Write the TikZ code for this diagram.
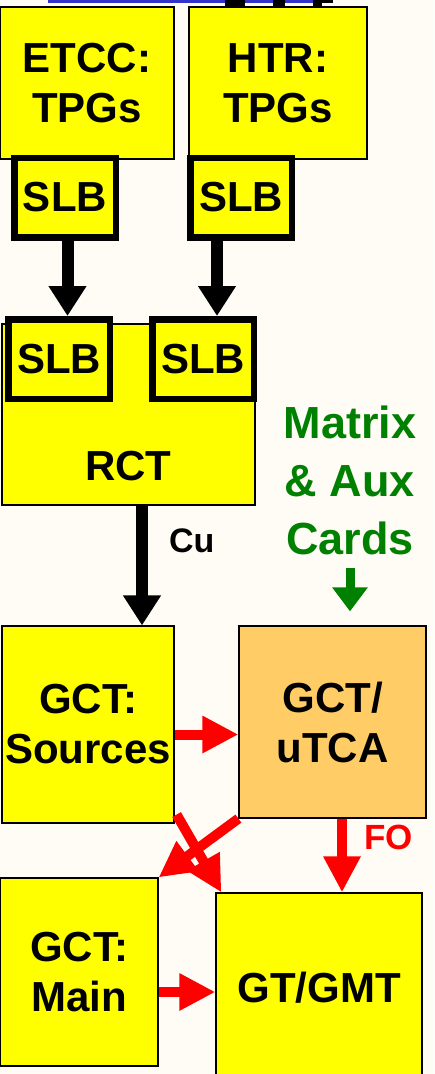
\documentclass[tikz,border=0pt]{standalone}
\usepackage{fontspec}
\setmainfont{Liberation Sans}
\usepackage{xcolor}
\usepackage{tikz}
\usetikzlibrary{arrows.meta,calc,positioning}
\definecolor{boxyellow}{HTML}{FFFF00}
\definecolor{utcaorange}{HTML}{FFCC66}
\definecolor{cardgreen}{HTML}{008000}
\definecolor{linkred}{HTML}{FF0000}
\definecolor{topblue}{HTML}{3333CC}
\definecolor{paper}{HTML}{FFFCF6}

\begin{document}
\begin{tikzpicture}
[x=1pt,y=-1pt,
every node/.style={font=\fontsize{42}{50}\selectfont\bfseries,align=center,inner sep=0pt},
card/.style={draw,line width=1.2pt,fill=boxyellow},
slb/.style={draw,line width=6.5pt,fill=boxyellow,minimum width=101.5pt,minimum height=79.5pt},
blk/.style={draw=black,line width=12pt,-{Triangle[length=30pt,width=36pt]}},
redarr/.style={draw=linkred,line width=10pt,-{Triangle[length=36pt,width=35pt]}},
grnarr/.style={draw=cardgreen,line width=9pt,-{Triangle[length=24pt,width=34pt]}}]
\fill[paper] (0,0) rectangle (434,1074);
\useasboundingbox (0,0) rectangle (434,1074);
% what is left of the row above
\fill[topblue] (48,0) rectangle (322,2.5);
\fill (225,0) rectangle (245,7);
\fill (273,0) rectangle (285,7);
\fill (313,0) rectangle (322,7);
\fill (322,0) rectangle (333,3);
% trigger primitives
\node[card,minimum width=174pt,minimum height=152pt] (etcc) at (87,83) {ETCC:\\TPGs};
\node[card,minimum width=178pt,minimum height=152pt] (htr) at (278,83) {HTR:\\TPGs};
\node[slb] (slbA) at (65,197.5) {SLB};
\node[slb] (slbB) at (241,197.5) {SLB};
% regional
\node[card,minimum width=253pt,minimum height=181pt,label={[yshift=-52pt]center:RCT}] (rct) at (128.5,414.5) {};
\node[slb] (slbC) at (59,359) {SLB};
\node[slb] (slbD) at (203,359) {SLB};
\node[text=cardgreen,font=\fontsize{45}{58}\selectfont\bfseries] (cards) at (350,480) {Matrix\\\& Aux\\Cards};
% global
\node[card,minimum width=172pt,minimum height=197pt] (src) at (88,724.5) {GCT:\\Sources};
\node[card,fill=utcaorange,minimum width=187pt,minimum height=192pt] (utca) at (332.5,722) {GCT/\\uTCA};
\node[card,minimum width=158pt,minimum height=188pt] (gmain) at (79,972) {GCT:\\Main};
\node[card,minimum width=206pt,minimum height=190pt] (gtgmt) at (319,988) {GT/GMT};
\coordinate (gstart) at (350,568);
\coordinate (xtail) at ([shift={(2pt,9pt)}]src.south east);
\coordinate (xtip) at ([xshift=6pt]gtgmt.north west);

\draw[blk] ([xshift=2.5pt]slbA.south) -- ([xshift=2.5pt]slbA.south |- slbC.north);
\draw[blk] ([xshift=-24pt]slbB.south) -- ([xshift=-24pt]slbB.south |- slbD.north);
\draw[blk] ([xshift=13.5pt]rct.south) -- ([xshift=13.5pt]rct.south |- src.north)
	node[pos=0.29,anchor=west,xshift=21pt,font=\fontsize{34}{40}\selectfont\bfseries] (cu) {Cu};
\draw[grnarr,shorten >=14pt] (gstart) -- (utca.north -| gstart);
\draw[redarr] ([yshift=-10pt]src.east) -- ([yshift=-10pt]src.east -| utca.west);
\draw[redarr] ([xshift=9.5pt]utca.south) -- ([xshift=9.5pt]utca.south |- gtgmt.north)
	node[pos=0.25,anchor=west,xshift=17pt,text=linkred,font=\fontsize{35}{40}\selectfont\bfseries] (fo) {FO};
\draw[redarr] ([yshift=-20pt]gmain.east) -- ([yshift=-20pt]gmain.east -| gtgmt.west);
\path
\foreach \startNode/\endNode in {xtail/xtip,utca.south west/gmain.north east}
{
	(\startNode) edge[redarr] (\endNode)
};
\end{tikzpicture}
\end{document}
